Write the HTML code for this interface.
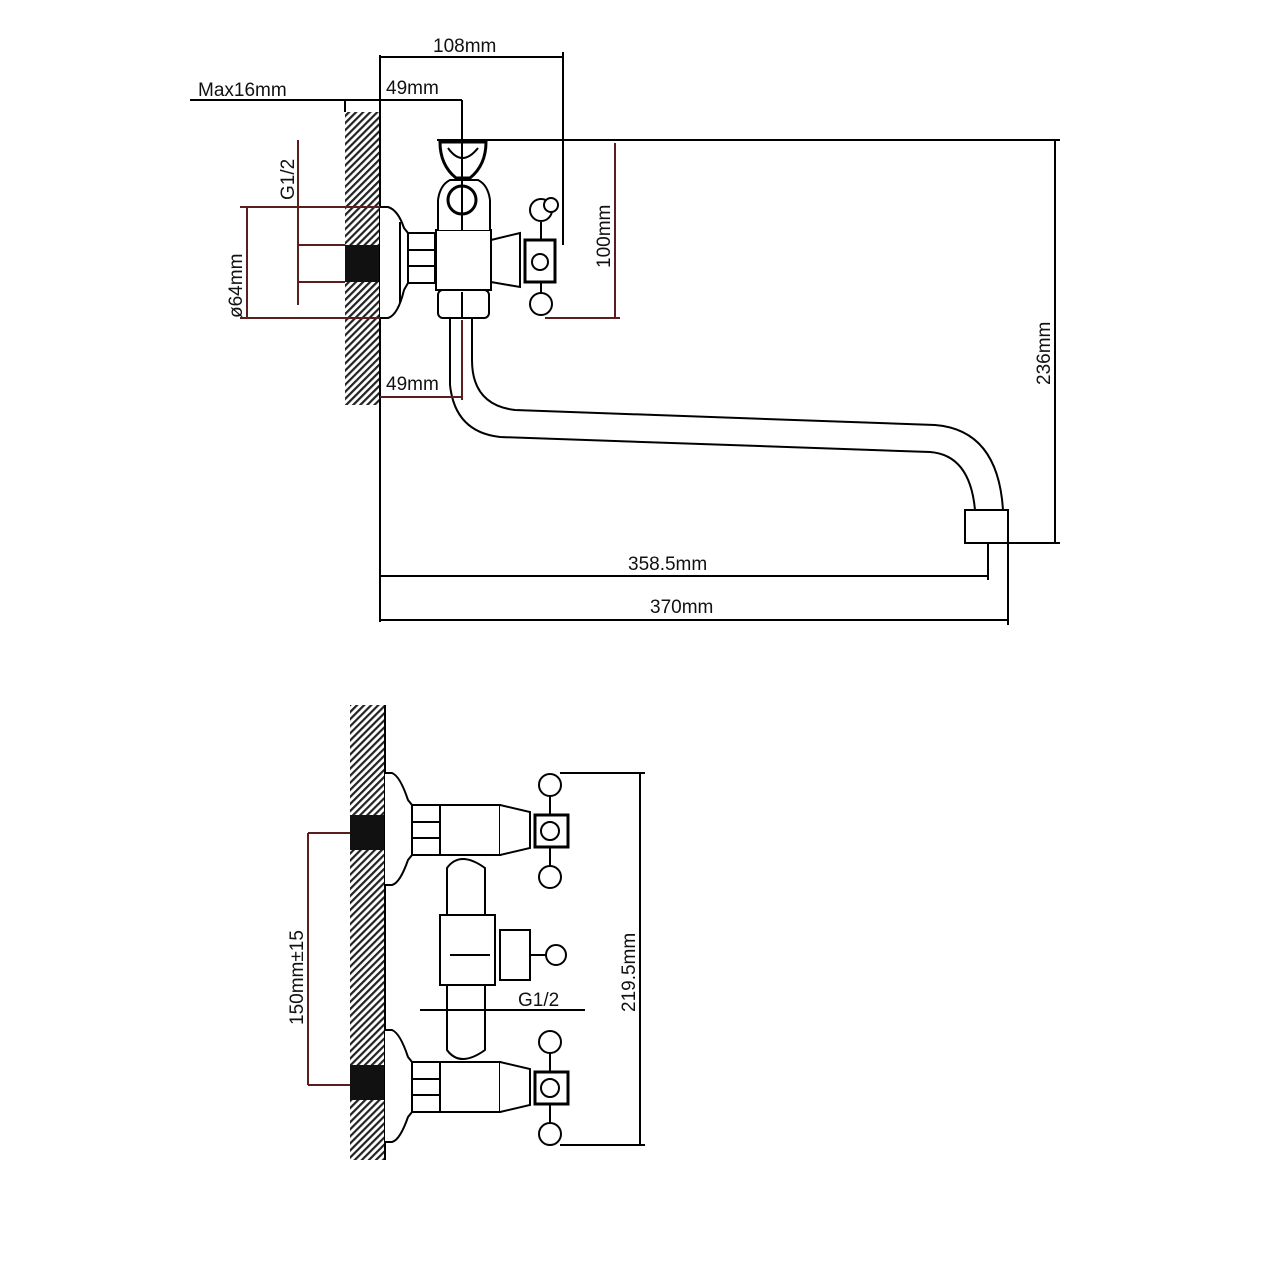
<!DOCTYPE html>
<html><head><meta charset="utf-8"><style>html,body{margin:0;padding:0;background:#fff}svg{display:block}</style></head><body>
<svg width="1280" height="1280" viewBox="0 0 1280 1280" xmlns="http://www.w3.org/2000/svg" font-family="Liberation Sans, sans-serif">
<defs>
<pattern id="h" width="5" height="5" patternUnits="userSpaceOnUse" patternTransform="rotate(45)">
<rect width="5" height="5" fill="#fff"/><rect width="2.2" height="5" fill="#222"/></pattern>
</defs>
<g stroke="#000" stroke-width="2" fill="none">
<!-- TOP VIEW -->
<rect x="345" y="112" width="35" height="293" fill="url(#h)" stroke="none"/>
<rect x="345" y="245" width="35" height="37" fill="#111" stroke="none"/>
<line x1="380" y1="55" x2="380" y2="622"/>
<!-- flange -->
<path d="M380 207 L388 207 Q398 210 404 228 L408 233 L408 283 L404 290 Q398 315 388 318 L380 318" fill="#fff"/>
<line x1="400" y1="222" x2="400" y2="303"/>
<!-- nut -->
<rect x="408" y="233" width="27" height="50" fill="#fff"/>
<line x1="408" y1="250" x2="435" y2="250"/><line x1="408" y1="266" x2="435" y2="266"/>
<!-- body -->
<rect x="436" y="230" width="55" height="60" fill="#fff"/>
<rect x="438" y="290" width="51" height="28" rx="5" fill="#fff"/>
<line x1="462" y1="292" x2="462" y2="318"/>
<path d="M438 230 L438 200 Q440 185 450 180 L478 180 Q488 185 490 200 L490 230" fill="#fff"/>
<circle cx="462" cy="200" r="14" stroke-width="3"/>
<path d="M440 142 L486 142 Q486 165 470 178 L456 178 Q440 165 440 142 Z" stroke-width="3" fill="#fff"/>
<path d="M448 148 Q462 168 478 148" />
<!-- bonnet + handle -->
<path d="M491 240 L520 233 L520 287 L491 282 Z" fill="#fff"/>
<rect x="525" y="240" width="30" height="42" fill="#fff" stroke-width="3"/>
<circle cx="540" cy="262" r="8"/>
<circle cx="541" cy="210" r="11" fill="#fff"/><circle cx="551" cy="205" r="7" fill="#fff"/>
<circle cx="541" cy="304" r="11" fill="#fff"/>
<line x1="541" y1="222" x2="541" y2="240"/><line x1="541" y1="282" x2="541" y2="293"/>
<!-- spout -->
<path d="M472 318 L472 360 Q472 405 515 410 L935 425 Q998 430 1003 510"/>
<path d="M450 318 L450 385 Q455 432 500 437 L930 452 Q970 455 975 510"/>
<rect x="965" y="510" width="43" height="33" fill="#fff"/>
<!-- dims black -->
<line x1="380" y1="57" x2="563" y2="57"/>
<line x1="563" y1="52" x2="563" y2="245"/>
<line x1="190" y1="100" x2="462" y2="100"/>
<line x1="462" y1="100" x2="462" y2="230"/>
<line x1="345" y1="100" x2="345" y2="112"/>
<line x1="437" y1="140" x2="1060" y2="140"/>
<line x1="1055" y1="140" x2="1055" y2="543"/>
<line x1="1008" y1="543" x2="1060" y2="543"/>
<line x1="988" y1="543" x2="988" y2="580"/>
<line x1="1008" y1="543" x2="1008" y2="625"/>
<line x1="380" y1="576" x2="988" y2="576"/>
<line x1="380" y1="620" x2="1008" y2="620"/>
</g>
<g stroke="#5a1e1e" stroke-width="2" fill="none">
<line x1="615" y1="143" x2="615" y2="318"/>
<line x1="545" y1="318" x2="620" y2="318"/>
<line x1="240" y1="207" x2="380" y2="207"/>
<line x1="240" y1="318" x2="380" y2="318"/>
<line x1="247" y1="207" x2="247" y2="318"/>
<line x1="298" y1="140" x2="298" y2="305"/>
<line x1="298" y1="245" x2="345" y2="245"/>
<line x1="298" y1="282" x2="345" y2="282"/>
<line x1="380" y1="397" x2="462" y2="397"/>
<line x1="462" y1="320" x2="462" y2="400"/>
<!-- bottom dims red -->
<line x1="308" y1="833" x2="308" y2="1085"/>
<line x1="308" y1="833" x2="350" y2="833"/>
<line x1="308" y1="1085" x2="350" y2="1085"/>
</g>
<g font-size="19" fill="#111">
<text x="433" y="52">108mm</text>
<text x="198" y="96">Max16mm</text>
<text x="386" y="94">49mm</text>
<text x="386" y="390">49mm</text>
<text x="628" y="570">358.5mm</text>
<text x="650" y="613">370mm</text>
<text transform="translate(610,268) rotate(-90)">100mm</text>
<text transform="translate(1050,385) rotate(-90)">236mm</text>
<text transform="translate(242,318) rotate(-90)">ø64mm</text>
<text transform="translate(294,200) rotate(-90)">G1/2</text>
<text transform="translate(303,1025) rotate(-90)">150mm±15</text>
<text transform="translate(635,1012) rotate(-90)">219.5mm</text>
<text x="518" y="1006">G1/2</text>
</g>
<!-- BOTTOM VIEW -->
<g stroke="#000" stroke-width="2" fill="none">
<rect x="350" y="705" width="35" height="455" fill="url(#h)" stroke="none"/>
<rect x="350" y="815" width="35" height="35" fill="#111" stroke="none"/>
<rect x="350" y="1065" width="35" height="35" fill="#111" stroke="none"/>
<line x1="385" y1="705" x2="385" y2="1160"/>
<g id="u">
<path d="M385 773 L392 773 Q400 776 408 800 L412 805 L412 855 L408 860 Q400 883 392 885 L385 885" fill="#fff"/>
<rect x="412" y="805" width="28" height="50" fill="#fff"/>
<line x1="412" y1="822" x2="440" y2="822"/><line x1="412" y1="838" x2="440" y2="838"/>
<rect x="440" y="805" width="60" height="50" fill="#fff"/>
<path d="M500 805 L530 812 L530 848 L500 855" fill="#fff"/>
<rect x="535" y="815" width="33" height="32" fill="#fff" stroke-width="3"/>
<circle cx="550" cy="831" r="9"/>
<circle cx="550" cy="785" r="11" fill="#fff"/>
<circle cx="550" cy="877" r="11" fill="#fff"/>
<line x1="550" y1="796" x2="550" y2="815"/><line x1="550" y1="847" x2="550" y2="866"/>
</g>
<use href="#u" y="257"/>
<!-- vertical pipe -->
<path d="M447 868 Q460 850 485 868 L485 1050 Q460 1068 447 1050 Z" fill="#fff"/>
<path d="M440 915 L495 915 L495 985 L440 985 Z" fill="#fff"/>
<path d="M450 955 L490 955"/>
<rect x="500" y="930" width="30" height="50" fill="#fff"/>
<circle cx="556" cy="955" r="10" fill="#fff"/>
<line x1="530" y1="955" x2="546" y2="955"/>
<line x1="420" y1="1010" x2="585" y2="1010"/>
<line x1="560" y1="773" x2="645" y2="773"/>
<line x1="560" y1="1145" x2="645" y2="1145"/>
<line x1="640" y1="773" x2="640" y2="1145"/>
</g>
</svg>
</body></html>
